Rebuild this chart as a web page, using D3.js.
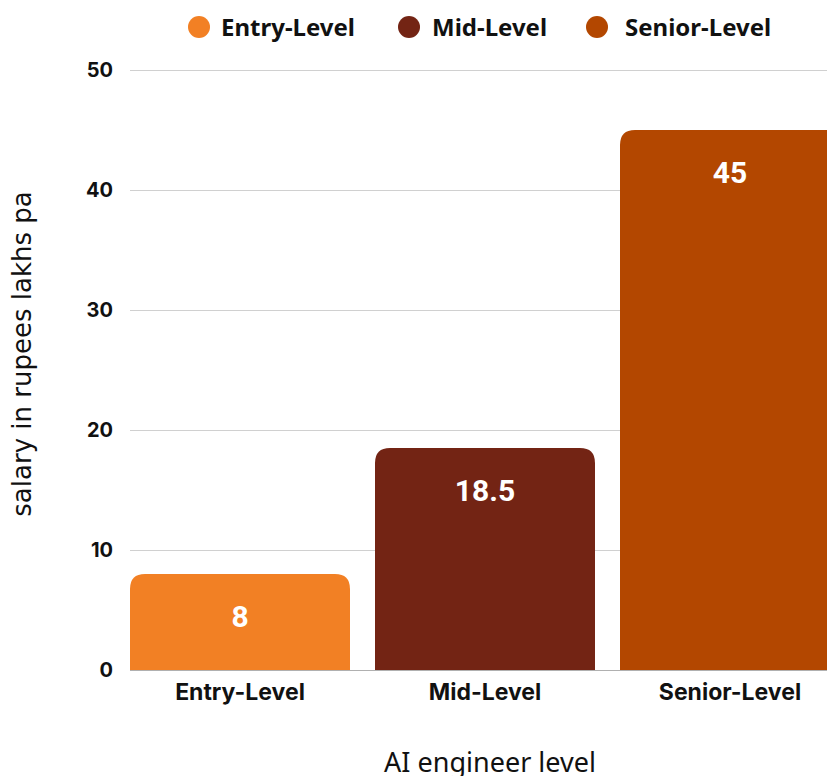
<!DOCTYPE html>
<html lang="en">
<head>
    <meta charset="UTF-8">
    <title>AI engineer salary</title>
    <script src="https://cdn.jsdelivr.net/npm/d3@7"></script>
    <style>
        body { margin: 0; background: #fff; }
        svg { display: block; overflow: hidden; }
    </style>
</head>
<body>
    <div id="chart"></div>

    <script>
        var levels = ["Entry-Level", "Mid-Level", "Senior-Level"];
        var salaries = [8, 18.5, 45];
        var colours = ["#F28024", "#732414", "#B34700"];
        var yTicks = [0, 10, 20, 30, 40, 50];

        var width = 827, height = 776;

        var svg = d3.select("#chart").append("svg")
                .attr("width", width)
                .attr("height", height);

        var x = d3.scaleBand()
                .domain(levels)
                .range([130, 840])
                .paddingInner(25 / 245)
                .paddingOuter(0);

        var y = d3.scaleLinear()
                .domain([0, 50])
                .range([670, 70]);

        // gridlines
        svg.append("g")
                .selectAll("line")
                .data(yTicks)
                .enter()
                .append("line")
                .attr("x1", 130)
                .attr("x2", width)
                .attr("y1", function(d){ return y(d) + 0.5; })
                .attr("y2", function(d){ return y(d) + 0.5; })
                .style("stroke", function(d){ return d === 0 ? "#b0b0b0" : "#d0d0d0"; })
                .style("stroke-width", 1);

        // y tick labels
        svg.append("g")
                .selectAll("text")
                .data(yTicks)
                .enter()
                .append("text")
                .attr("x", 113)
                .attr("y", function(d){ return y(d); })
                .attr("dy", "0.36em")
                .attr("text-anchor", "end")
                .style("font-family", "Inter, 'Open Sans', sans-serif")
                .style("font-weight", "bold")
                .style("font-size", "20px")
                .style("fill", "#111")
                .text(function(d){ return d; });

        // bars with rounded top corners
        var r = 15;
        function barPath(d, i) {
            var x0 = x(levels[i]), x1 = x0 + x.bandwidth();
            var y0 = y(d), yb = y(0);
            return "M" + x0 + "," + yb +
                   "V" + (y0 + r) +
                   "Q" + x0 + "," + y0 + " " + (x0 + r) + "," + y0 +
                   "H" + (x1 - r) +
                   "Q" + x1 + "," + y0 + " " + x1 + "," + (y0 + r) +
                   "V" + yb + "Z";
        }

        svg.append("g")
                .selectAll("path")
                .data(salaries)
                .enter()
                .append("path")
                .attr("d", barPath)
                .style("fill", function(d, i){ return colours[i]; });

        // value labels
        svg.append("g")
                .selectAll("text")
                .data(salaries)
                .enter()
                .append("text")
                .attr("x", function(d, i){ return x(levels[i]) + x.bandwidth() / 2; })
                .attr("y", function(d){ return y(d) + 42; })
                .attr("dy", "0.36em")
                .attr("text-anchor", "middle")
                .style("font-family", "Roboto, sans-serif")
                .style("font-weight", "bold")
                .style("font-size", "30px")
                .style("fill", "#fff")
                .text(function(d){ return d; });

        // x tick labels
        svg.append("g")
                .selectAll("text")
                .data(levels)
                .enter()
                .append("text")
                .attr("x", function(d){ return x(d) + x.bandwidth() / 2; })
                .attr("y", 692)
                .attr("dy", "0.36em")
                .attr("text-anchor", "middle")
                .style("font-family", "Inter, 'Open Sans', sans-serif")
                .style("font-weight", "bold")
                .style("font-size", "23px")
                .style("fill", "#111")
                .text(function(d){ return d; });

        // axis titles
        svg.append("text")
                .attr("x", 490)
                .attr("y", 762)
                .attr("dy", "0.36em")
                .attr("text-anchor", "middle")
                .style("font-family", "'Noto Sans', sans-serif")
                .style("font-size", "27px")
                .style("fill", "#111")
                .text("AI engineer level");

        svg.append("text")
                .attr("transform", "translate(22,354) rotate(-90)")
                .attr("dy", "0.36em")
                .attr("text-anchor", "middle")
                .style("font-family", "'DejaVu Sans', sans-serif")
                .style("font-size", "26px")
                .style("fill", "#111")
                .text("salary in rupees lakhs pa");

        // legend
        var legendX = [199, 409, 597];
        var legendTextX = [221, 432, 625];
        var legend = svg.append("g").attr("class", "legend");
        legend.selectAll("circle")
                .data(levels)
                .enter()
                .append("circle")
                .attr("cx", function(d, i){ return legendX[i]; })
                .attr("cy", 27)
                .attr("r", 11)
                .style("fill", function(d, i){ return colours[i]; });
        legend.selectAll("text")
                .data(levels)
                .enter()
                .append("text")
                .attr("x", function(d, i){ return legendTextX[i]; })
                .attr("y", 27)
                .attr("dy", "0.36em")
                .style("font-family", "'Noto Sans', sans-serif")
                .style("font-weight", "bold")
                .style("font-size", "24px")
                .style("fill", "#111")
                .text(function(d){ return d; });
    </script>
</body>
</html>
